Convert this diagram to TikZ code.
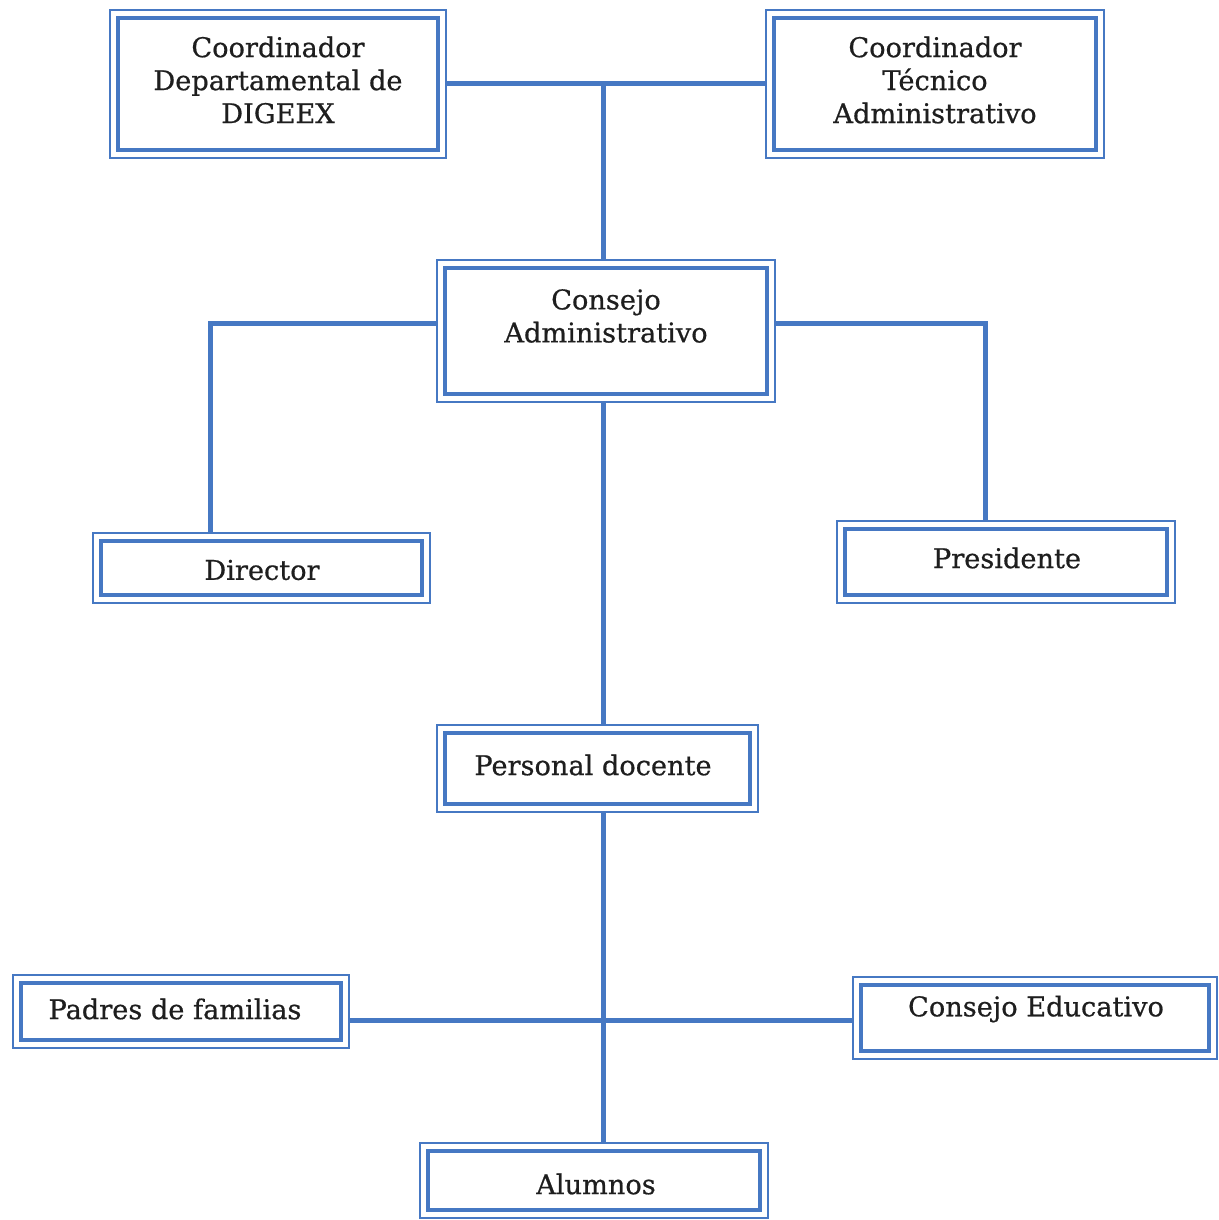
\documentclass[tikz,border=0pt]{standalone}
\usepackage{fontspec}
\setmainfont{DejaVu Serif}[FakeBold=0.6]
\usetikzlibrary{calc}
\definecolor{bl}{RGB}{70,120,195}
\definecolor{tx}{RGB}{30,30,30}
\begin{document}
\begin{tikzpicture}[x=0.5pt,y=-0.5pt,
  dbox/.style={draw=bl, line width=1.2pt, inner sep=0pt, fill=white,
    path picture={\draw[bl, line width=2pt]
      ($(path picture bounding box.north west)+(4pt,-4pt)$) rectangle ($(path picture bounding box.south east)+(-4pt,4pt)$);}},
  lbl/.style={text=tx, align=center, font=\fontsize{13.6}{16.5}\selectfont, inner sep=0pt},
  conn/.style={draw=bl, line width=2.5pt}]
\useasboundingbox[fill=white] (0,0) rectangle (1219,1220);
% boxes
\node[dbox, minimum width=168pt, minimum height=74pt] (c1) at (278,84) {};
\node[dbox, minimum width=169pt, minimum height=74pt] (c2) at (935,84) {};
\node[dbox, minimum width=169pt, minimum height=71pt] (ca) at (606,331) {};
\node[dbox, minimum width=168.5pt, minimum height=35pt] (dir) at (261.5,568) {};
\node[dbox, minimum width=169pt, minimum height=41pt] (pres) at (1006,562) {};
\node[dbox, minimum width=160.5pt, minimum height=43.5pt] (pd) at (597.5,768.5) {};
\node[dbox, minimum width=168pt, minimum height=36.5pt] (pf) at (181,1011.5) {};
\node[dbox, minimum width=182pt, minimum height=41pt] (ce) at (1035,1018) {};
\node[dbox, minimum width=174pt, minimum height=37.5pt] (al) at (594,1180.5) {};
% texts
\node[lbl] (t1) at (278,80) {Coordinador\\Departamental de\\DIGEEX};
\node[lbl] (t2) at (935,80) {Coordinador\\Técnico\\Administrativo};
\node[lbl] (t3) at (606,316) {Consejo\\Administrativo};
\node[lbl] (t4) at (262,570) {Director};
\node[lbl] (t5) at (1007,558) {Presidente};
\node[lbl] (t6) at (593,765) {Personal docente};
\node[lbl] (t7) at (175,1009) {Padres de familias};
\node[lbl] (t8) at (1036,1009) {Consejo Educativo};
\node[lbl] (t9) at (596,1184) {Alumnos};
% junctions
\coordinate (jt) at (603,84);
\coordinate (jl) at (210,323);
\coordinate (jr) at (985,323);
\coordinate (jv) at (603,1020);
% connectors
\draw[conn] (c1.east) -- (c2.west);
\draw[conn] (jt) -- (ca.north -| jt);
\draw[conn] (ca.west |- jl) -- (jl) -- (dir.north -| jl);
\draw[conn] (ca.east |- jr) -- (jr) -- (pres.north -| jr);
\draw[conn] (ca.south -| jv) -- (pd.north -| jv);
\draw[conn] (pd.south -| jv) -- (al.north -| jv);
\draw[conn] (pf.east |- jv) -- (ce.west |- jv);
\end{tikzpicture}
\end{document}
